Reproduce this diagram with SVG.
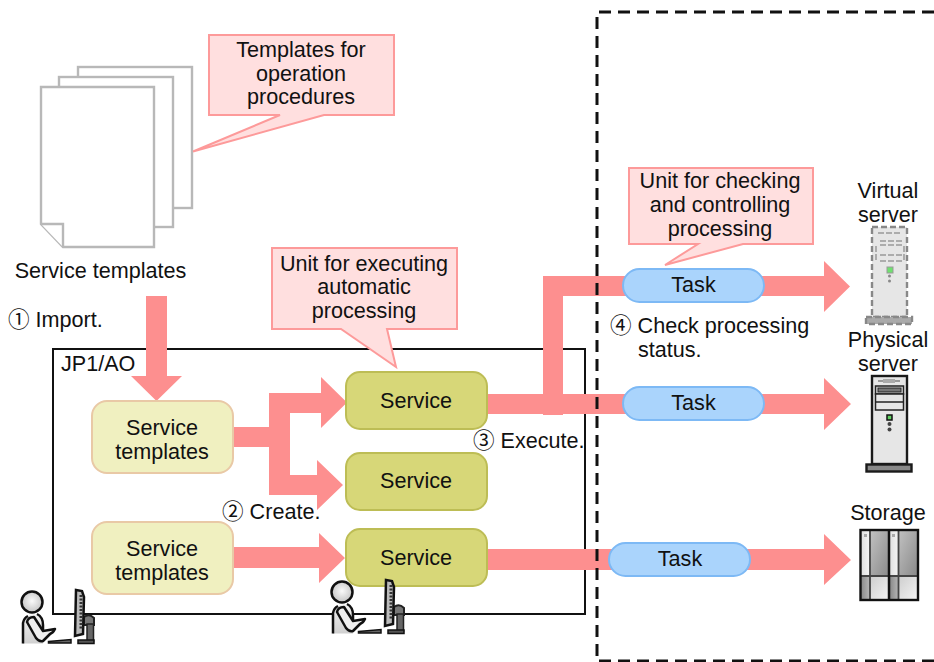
<svg xmlns="http://www.w3.org/2000/svg" width="934" height="662" viewBox="0 0 934 662">
<style>
text{font-family:"Liberation Sans","Noto Sans CJK JP",sans-serif;font-size:21.6px;fill:#111}
.m{text-anchor:middle}
.page{fill:#fff;stroke:#b8b8b8;stroke-width:2.4}
.call{fill:#ffdfdf;stroke:#fd9a9a;stroke-width:2}
.tmpl{fill:#f0f0c0;stroke:#e9c9a6;stroke-width:2}
.svc{fill:#d7d778;stroke:#bdbd55;stroke-width:2}
.task{fill:#aad4fc;stroke:#7db9f5;stroke-width:2}
.flow{fill:#fd8f8f}
.k{stroke:#1a1a1a;stroke-width:2.4}
</style>
<defs>
<radialGradient id="head" cx="50%" cy="45%" r="55%"><stop offset="0" stop-color="#fafafa"/><stop offset="1" stop-color="#c4c4c4"/></radialGradient>
<linearGradient id="bodyG" x1="0" y1="0" x2="0" y2="1"><stop offset="0" stop-color="#f2f2f2"/><stop offset="1" stop-color="#d0d0d0"/></linearGradient>
<linearGradient id="sg1" x1="0" y1="0" x2="1" y2="1"><stop offset="0" stop-color="#c0c0c0"/><stop offset="1" stop-color="#8a8a8a"/></linearGradient>
<linearGradient id="sg2" x1="0" y1="0" x2="1" y2="0"><stop offset="0" stop-color="#e0e0e0"/><stop offset="1" stop-color="#f6f6f6"/></linearGradient>
<linearGradient id="sg3" x1="0" y1="0" x2="1" y2="1"><stop offset="0" stop-color="#cfcfcf"/><stop offset="1" stop-color="#f2f2f2"/></linearGradient>
<linearGradient id="sg4" x1="0" y1="0" x2="1" y2="0"><stop offset="0" stop-color="#8a8a8a"/><stop offset="1" stop-color="#b8b8b8"/></linearGradient>
<g id="operator">
<path d="M84 617 Q89 613 94 618 V625 H84Z" fill="#777" stroke="#222" stroke-width="2"/>
<rect x="87" y="624" width="6.500" height="17" fill="#666" stroke="#222" stroke-width="1.500"/>
<rect x="78" y="640" width="16" height="3.500" fill="#555" stroke="#111" stroke-width="1.500"/>
<path d="M76 590 L82 591 L84 597 L83 634 L75 636Z" fill="#bbb" stroke="#111" stroke-width="2.500"/>
<path d="M81 595 V630" stroke="#333" stroke-width="3" stroke-dasharray="2 1.500" fill="none"/>
<path d="M48.500 641.500 L71 639.500 V643 H48.500Z" fill="#666" stroke="#111" stroke-width="1.500"/>
<path d="M23 643.500 V623 Q25 616 33 614 Q41 615 43 623 V631 L55 629 L52 634 L43 642 V643.500Z" fill="url(#bodyG)"/>
<path d="M23 643.500 V623 Q24 618 28 616 M37 614 Q43 617 43 625 V631" fill="none" stroke="#111" stroke-width="2.500"/>
<path d="M27 622 Q28 617 34 617 L43 631 L55 629 Q53 633 50 634 L43 641 Q39 642 36 638Z" fill="#f0f0f0" stroke="#111" stroke-width="2.500" stroke-linejoin="round"/>
<circle cx="32" cy="602" r="10.500" fill="url(#head)" stroke="#111" stroke-width="2.500"/>
</g>
</defs>

<g id="jp1ao"><rect x="53" y="349" width="532" height="265" fill="#fff" stroke="#111" stroke-width="2"/><text x="61" y="371">JP1/AO</text></g>

<g id="connectors" class="flow">
<path d="M146 296H167V376H182L156.500 401L131 376H146Z"/>
<path d="M233 427H269V393H321V377L347 402.500L321 428V413H290V475H317V460L343 485L317 510V495H269V447H233Z"/>
<path d="M233 547H319V533L345 558L319 583V568H233Z"/>
<path d="M487 394H543V276H640V296H563V394H640V414H563V415H543V414H487Z"/>
<path d="M750 276H824V261L850 286.500L824 312V296H750Z"/>
<path d="M750 394H824V378L851 404L824 430V414H750Z"/>
<path d="M487 549H620V570H487Z"/>
<path d="M740 549H824V534L851 560L824 585V570H740Z"/>
</g>

<g id="pages">
<rect class="page" x="78" y="67" width="114" height="141"/>
<rect class="page" x="59" y="77" width="114" height="150"/>
<path class="page" d="M41 87H154V247H63L41 224Z"/>
<path class="page" d="M41 224H63V247" fill="none"/>
</g>
<text class="m" x="100.500" y="278">Service templates</text>
<text x="8" y="327">① Import.</text>

<g id="callout-templates"><path class="call" d="M209 35H394V115H324L193 151.500L280 115H209Z"/><text class="m" x="301" y="57">Templates for</text><text class="m" x="301" y="81">operation</text><text class="m" x="301" y="104">procedures</text></g>
<g id="callout-service"><path class="call" d="M272 248H457V329H387L396 367L341 329H272Z"/><text class="m" x="364" y="271">Unit for executing</text><text class="m" x="364" y="294">automatic</text><text class="m" x="364" y="318">processing</text></g>
<g id="callout-task"><path class="call" d="M629 168H813V244H743L665 265L698 244H629Z"/><text class="m" x="720" y="188">Unit for checking</text><text class="m" x="720" y="212">and controlling</text><text class="m" x="720" y="236">processing</text></g>

<g id="template-1"><rect class="tmpl" x="92" y="401" width="141" height="72" rx="15"/><text class="m" x="162" y="435">Service</text><text class="m" x="162" y="459">templates</text></g>
<g id="template-2"><rect class="tmpl" x="92" y="522" width="141" height="72" rx="15"/><text class="m" x="162" y="556">Service</text><text class="m" x="162" y="580">templates</text></g>
<g id="service-1"><rect class="svc" x="346" y="372" width="141" height="57" rx="14"/><text class="m" x="416" y="408">Service</text></g>
<g id="service-2"><rect class="svc" x="346" y="453" width="141" height="57" rx="14"/><text class="m" x="416" y="488">Service</text></g>
<g id="service-3"><rect class="svc" x="346" y="529" width="141" height="57" rx="14"/><text class="m" x="416" y="565">Service</text></g>
<text x="222" y="519">② Create.</text>
<text x="473" y="448">③ Execute.</text>

<g id="task-1"><rect class="task" x="623" y="269" width="141" height="33" rx="16.500"/><text class="m" x="693.500" y="292">Task</text></g>
<g id="task-2"><rect class="task" x="623" y="387" width="141" height="33" rx="16.500"/><text class="m" x="693.500" y="410">Task</text></g>
<g id="task-3"><rect class="task" x="609" y="543" width="141" height="33" rx="16.500"/><text class="m" x="680" y="566">Task</text></g>
<text x="610" y="333">④ Check processing</text>
<text x="638" y="357">status.</text>

<path id="boundary" d="M934 661H597V12H934" fill="none" stroke="#111" stroke-width="3" stroke-dasharray="12 7"/>

<g id="virtual-server">
<text class="m" x="888" y="198">Virtual</text><text class="m" x="888" y="222">server</text>
<rect x="872" y="227" width="35" height="90" fill="#e6e6e6" stroke="#888" stroke-width="2.400" stroke-dasharray="6 3"/>
<rect x="866" y="317" width="46" height="7" fill="#aaa" stroke="#888" stroke-width="2.400" stroke-dasharray="6 3"/>
<path d="M878 233H900M880 241H902M876 246V261M904 246V261M880 245H902M880 255H902M880 261H902" stroke="#999" stroke-width="1.500" stroke-dasharray="6 2" fill="none"/>
<rect x="887" y="267" width="6" height="6" fill="#6fe06f" stroke="#999"/>
<circle cx="889.500" cy="276" r="1.500" fill="#888"/><circle cx="889.500" cy="281" r="1.500" fill="#888"/>
</g>
<g id="physical-server">
<text class="m" x="888" y="347">Physical</text><text class="m" x="888" y="371">server</text>
<rect x="872" y="376" width="35" height="88" fill="#e6e6e6" class="k"/>
<rect x="866.500" y="464.500" width="45" height="7" fill="#888" class="k"/>
<path d="M878 381H900" stroke="#999" stroke-width="2"/><rect x="883" y="379" width="12" height="4" fill="#aaa"/>
<rect x="875.500" y="386" width="28" height="8" fill="#ddd" stroke="#222" stroke-width="1.500"/><rect x="878" y="388" width="23" height="4" fill="#777" stroke="#222"/>
<rect x="875.500" y="394" width="28" height="16" fill="#e6e6e6" stroke="#222" stroke-width="1.500"/><path d="M875.500 402H903.500" stroke="#222" stroke-width="1.500"/>
<rect x="887" y="415" width="5" height="5" fill="#5fd05f" stroke="#111" stroke-width="1.500"/>
<circle cx="889.500" cy="424" r="2" fill="#444"/><circle cx="889.500" cy="429.500" r="2" fill="#444"/>
</g>
<g id="storage">
<text class="m" x="888" y="520">Storage</text>
<rect x="860" y="530" width="58" height="70" fill="#ccc"/>
<rect x="861" y="531" width="9" height="45" fill="url(#sg2)"/><rect x="871" y="531" width="18" height="45" fill="url(#sg1)"/>
<rect x="861" y="577" width="9" height="22" fill="url(#sg4)"/><rect x="871" y="577" width="18" height="22" fill="url(#sg3)"/>
<rect x="890" y="531" width="9" height="45" fill="url(#sg2)"/><rect x="899" y="531" width="18" height="45" fill="url(#sg1)"/>
<rect x="890" y="577" width="9" height="22" fill="url(#sg4)"/><rect x="899" y="577" width="18" height="22" fill="url(#sg3)"/>
<rect x="864" y="534" width="3" height="3" fill="#aaa"/><rect x="892" y="534" width="3" height="3" fill="#aaa"/>
<path d="M870 531V599M898.500 531V599M860 576H918" stroke="#444" stroke-width="1.800" fill="none"/>
<path d="M889 530V600" stroke="#111" stroke-width="2.500"/>
<rect x="860.500" y="530" width="57.500" height="70" fill="none" stroke="#111" stroke-width="2.400"/>
</g>
<use id="operator-1" href="#operator"/>
<use id="operator-2" href="#operator" transform="translate(310 -10)"/>
</svg>
